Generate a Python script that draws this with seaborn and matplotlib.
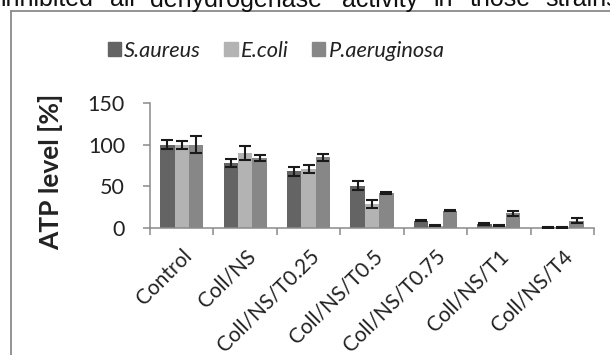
import matplotlib
matplotlib.use("Agg")
import matplotlib.pyplot as plt
from matplotlib.lines import Line2D
from matplotlib.transforms import ScaledTranslation
import numpy as np
import pandas as pd
import seaborn as sns

# ---- data ----
categories = ["Control", "Coll/NS", "Coll/NS/T0.25", "Coll/NS/T0.5",
              "Coll/NS/T0.75", "Coll/NS/T1", "Coll/NS/T4"]
strains = ["S.aureus", "E.coli", "P.aeruginosa"]
s_aureus = [100, 78, 68, 51, 9, 5, 1]
e_coli = [100, 90, 71, 29, 3, 2.5, 0.5]
p_aeruginosa = [100, 84, 85, 42, 21, 17.5, 9]
s_aureus_err = [5.5, 5, 5, 5, 1, 1, 0.5]
e_coli_err = [5, 8.5, 5, 5, 1, 0.6, 0.3]
p_aeruginosa_err = [10, 3.5, 4, 1, 1, 2.8, 2.8]
colors = ["#646464", "#b3b3b3", "#878787"]
yticks = [0, 50, 100, 150]
doc_words = ["inhibited", "all", "dehydrogenase", "activity", "in", "those", "strains"]

values = [s_aureus, e_coli, p_aeruginosa]
errors = [s_aureus_err, e_coli_err, p_aeruginosa_err]
df = pd.DataFrame({
    "group": np.repeat([categories], 3, axis=0).ravel(),
    "strain": np.repeat(strains, len(categories)),
    "atp": np.concatenate(values),
})

sns.set_theme(style="white")
plt.rcParams["font.family"] = ["Lato", "DejaVu Sans"]

fig = plt.figure(figsize=(6.10, 3.55), dpi=100)
ax = fig.add_axes([150 / 610, 1 - 228 / 355, 444 / 610, 125 / 355])

sns.barplot(data=df, x="group", y="atp", hue="strain", order=categories,
            hue_order=strains, palette=colors, errorbar=None, width=0.68,
            saturation=1, linewidth=0, ax=ax, legend=True)

# error bars at the bar positions created by seaborn
for cont, errs in zip(ax.containers, errors):
    xs = [p.get_x() + p.get_width() / 2 for p in cont]
    ys = [p.get_height() for p in cont]
    ax.errorbar(xs, ys, yerr=errs, fmt="none", ecolor="#1a1a1a",
                elinewidth=1.5, capsize=4.2, capthick=1.5, zorder=5)

ax.set_xlim(-0.5, len(categories) - 0.5)
ax.set_ylim(0, 150)
ax.set_yticks(yticks)
ax.set_yticklabels([str(t) for t in yticks])
ax.set_xticks(range(len(categories)))
ax.set_xticklabels(categories, rotation=45, ha="right", va="top",
                   rotation_mode="anchor")
shift = ScaledTranslation(3 / 100, 0, fig.dpi_scale_trans)
for lbl in ax.get_xticklabels():
    lbl.set_transform(lbl.get_transform() + shift)
ax.set_xticks(np.arange(-0.5, len(categories), 1.0), minor=True)
ax.tick_params(axis="x", which="major", length=0, pad=13, labelsize=15,
               colors="#222222")
ax.tick_params(axis="x", which="minor", length=5, width=1.1, color="#8a8a8a",
               direction="out", bottom=True)
ax.tick_params(axis="y", length=5, width=1.1, color="#8a8a8a", direction="out",
               left=True, pad=13, labelsize=15.5, labelcolor="#222222")

for side in ["top", "right"]:
    ax.spines[side].set_visible(False)
for side in ["left", "bottom"]:
    ax.spines[side].set_color("#8a8a8a")
    ax.spines[side].set_linewidth(1.1)

ax.set_xlabel("")
ax.set_ylabel("ATP level [%]", fontsize=19, fontweight="bold", color="#222222")
ax.yaxis.set_label_coords(-0.196, 0.452)

# legend
ax.get_legend().remove()
handles = [plt.Rectangle((0, 0), 1, 1, color=c) for c in colors]
leg = fig.legend(handles, strains, loc="center", bbox_to_anchor=(276 / 610, 1 - 51 / 355),
                 ncol=3, frameon=False, handlelength=0.62, handleheight=0.62,
                 handletextpad=0.15, columnspacing=1.05,
                 prop={"family": "Lato", "style": "italic", "size": 15.7})
for t in leg.get_texts():
    t.set_color("#222222")

# chart frame (document box)
fig.add_artist(Line2D([11 / 610, 1.0], [1 - 10.5 / 355, 1 - 10.5 / 355],
                      transform=fig.transFigure, color="#8a8a8a", lw=1.3))
fig.add_artist(Line2D([11 / 610, 11 / 610], [0, 1 - 10.5 / 355],
                      transform=fig.transFigure, color="#8a8a8a", lw=1.3))

# surrounding document text, cut off at the top
word_x = [0, 110, 150, 342, 433, 470, 545]
for w, x in zip(doc_words, word_x):
    fig.text(x / 610, 1 - 6.5 / 355, w, fontsize=18, va="baseline", ha="left",
             family=["Liberation Sans", "DejaVu Sans"], color="#111111")

fig.savefig("out.png", dpi=100)
